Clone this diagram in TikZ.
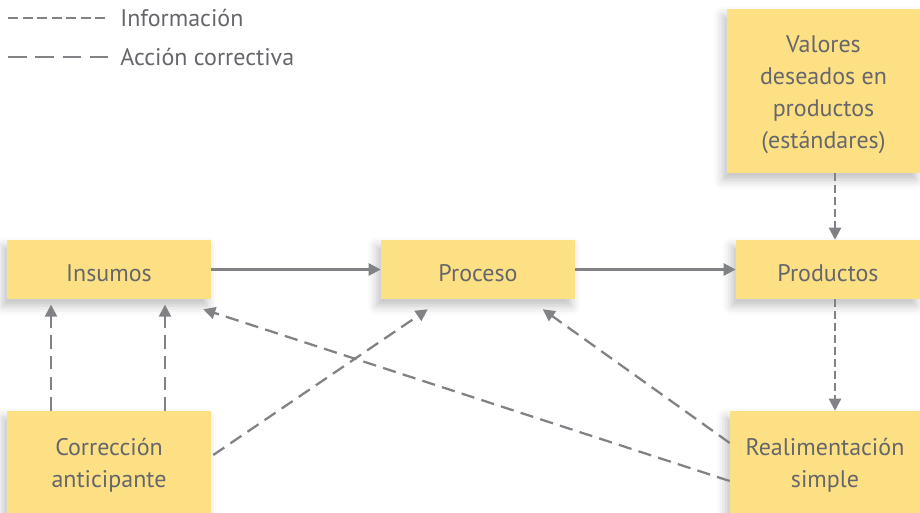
\documentclass[tikz,border=0pt]{standalone}
\usepackage{fontspec}
\setmainfont{PT Sans}
\usetikzlibrary{arrows.meta,shadows.blur,calc}
\definecolor{boxy}{HTML}{FDE084}
\definecolor{txtg}{HTML}{66676B}
\definecolor{lineg}{HTML}{808285}
\newcommand\dnstrut{\rule{0pt}{18pt}}
\begin{document}
\begin{tikzpicture}[x=0.75pt,y=-0.75pt,
  box/.style={fill=boxy,draw=none,text=txtg,align=center,font=\fontsize{18}{24}\selectfont,
    inner sep=0pt,blur shadow={shadow xshift=-3pt,shadow yshift=-5pt,shadow blur radius=7pt,shadow opacity=25}},
  flow/.style={draw=lineg,line width=1.7pt,-{Triangle[length=9pt,width=9pt]}},
  info/.style={flow,dash pattern=on 6pt off 3pt},
  acc/.style={flow,dash pattern=on 10pt off 5.5pt},
  legtxt/.style={text=txtg,font=\fontsize{18}{20}\selectfont,anchor=west,inner sep=0pt}]
\useasboundingbox (0,0) rectangle (920,513);
% legend
\coordinate (l1a) at (8,18); \coordinate (l1b) at (108,18);
\coordinate (l2a) at (8,57); \coordinate (l2b) at (108,57);
\draw[draw=lineg,line width=1.7pt,dash pattern=on 7.5pt off 3.4pt] (l1a) -- (l1b);
\draw[draw=lineg,line width=1.7pt,dash pattern=on 14pt off 6.5pt] (l2a) -- (l2b);
\node[legtxt] (leg1) at (120,18) {Información};
\node[legtxt] (leg2) at (120,57) {Acción correctiva};
% boxes
\node[box,minimum width=153pt,minimum height=44.25pt] (ins) at (109,269.5) {\dnstrut Insumos};
\node[box,minimum width=145.5pt,minimum height=44.25pt] (pro) at (478,269.5) {\dnstrut Proceso};
\node[box,minimum width=138pt,minimum height=44.25pt] (prd) at (828,269.5) {\dnstrut Productos};
\node[box,minimum width=144.75pt,minimum height=123pt] (val) at (823.5,91) {\dnstrut Valores\\deseados en\\productos\\(estándares)};
\node[box,minimum width=153pt,minimum height=76.5pt] (cor) at (109,462) {\dnstrut Corrección\\anticipante};
\node[box,minimum width=142.5pt,minimum height=76.5pt] (rea) at (825,462) {\dnstrut Realimentación\\simple};
% connectors
\draw[flow] (ins.east) -- (pro.west);
\draw[flow] (pro.east) -- (prd.west);
\draw[info] (val.south -| 835,0) -- (prd.north -| 835,0);
\draw[info] (prd.south -| 835,0) -- (rea.north -| 835,0);
\draw[acc] (cor.north -| 51,0) -- ([yshift=-4]ins.south -| 51,0);
\draw[acc] (cor.north -| 165,0) -- ([yshift=-4]ins.south -| 165,0);
\draw[acc] ($(cor.east)+(2,-7)$) -- ($(pro.south west)+(47,10)$);
\draw[acc] ($(rea.west)+(0,19)$) -- ($(ins.south east)+(-8,10)$);
\draw[acc] ($(rea.west)+(0,-19)$) -- ($(pro.south west)+(162,10)$);
\end{tikzpicture}
\end{document}
